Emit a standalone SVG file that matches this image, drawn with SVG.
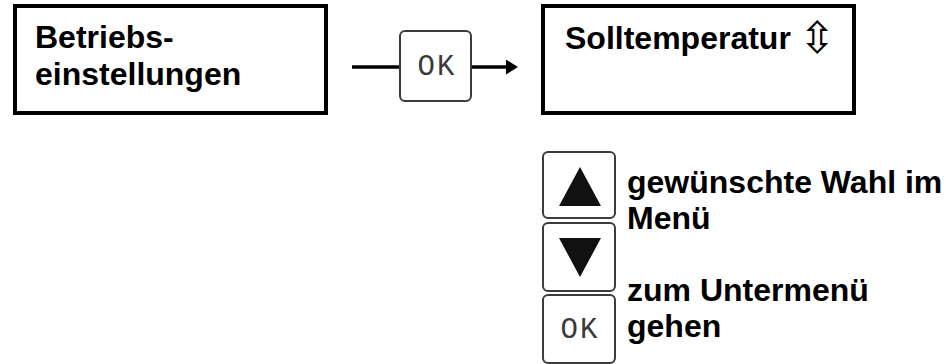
<svg xmlns="http://www.w3.org/2000/svg" width="946" height="364" viewBox="0 0 946 364">
  <defs>
    <style>
      .box { fill: #fff; stroke: #000; stroke-width: 4; }
      .btn { fill: #fff; stroke: #3c3c3c; stroke-width: 2; }
      .lbl { font-family: "Liberation Sans", Arial, sans-serif; font-weight: bold; font-size: 32px; fill: #000; }
      .ok { font-family: "Liberation Mono", "DejaVu Sans Mono", monospace; font-size: 29px; fill: #3a3a3a; text-anchor: middle; letter-spacing: 2px; }
      .sym { font-family: "DejaVu Sans", sans-serif; font-size: 44px; fill: #000; }
      .tri { fill: #111; }
      .conn { stroke: #000; stroke-width: 3.5; fill: none; }
    </style>
    <marker id="arrow" viewBox="0 0 12 15" refX="1" refY="7.5" markerWidth="12" markerHeight="15" markerUnits="userSpaceOnUse" orient="auto">
      <path d="M0,0 L12,7.5 L0,15 Z" fill="#000"/>
    </marker>
  </defs>
  <rect width="946" height="364" fill="#fff"/>

  <g id="connectors">
    <path class="conn" d="M352,67 H400"/>
    <path class="conn" d="M471,67 H507" marker-end="url(#arrow)"/>
  </g>

  <g id="node-betriebseinstellungen">
    <rect class="box" x="15" y="6" width="311" height="107"/>
    <text class="lbl" x="35" y="48">Betriebs-</text>
    <text class="lbl" x="35" y="85">einstellungen</text>
  </g>

  <g id="node-ok-top">
    <rect class="btn" x="400" y="31" width="71" height="70" rx="5"/>
    <text class="ok" x="437" y="75">OK</text>
  </g>

  <g id="node-solltemperatur">
    <rect class="box" x="543" y="6" width="311" height="107"/>
    <text class="lbl" x="565" y="49">Solltemperatur</text>
    <text class="sym" x="799" y="53">⇳</text>
  </g>

  <g id="node-up">
    <rect class="btn" x="543" y="152" width="72" height="66" rx="5"/>
    <polygon class="tri" points="580,167 601,206 559,206"/>
  </g>

  <g id="node-down">
    <rect class="btn" x="543" y="223" width="72" height="68" rx="5"/>
    <polygon class="tri" points="559,238 601,238 580,277"/>
  </g>

  <g id="node-ok-bottom">
    <rect class="btn" x="543" y="295" width="72" height="68" rx="5"/>
    <text class="ok" x="580" y="338">OK</text>
  </g>

  <g id="legend-text">
    <text class="lbl" x="627" y="193">gewünschte Wahl im</text>
    <text class="lbl" x="627" y="229">Menü</text>
    <text class="lbl" x="627" y="301">zum Untermenü</text>
    <text class="lbl" x="627" y="337">gehen</text>
  </g>
</svg>
